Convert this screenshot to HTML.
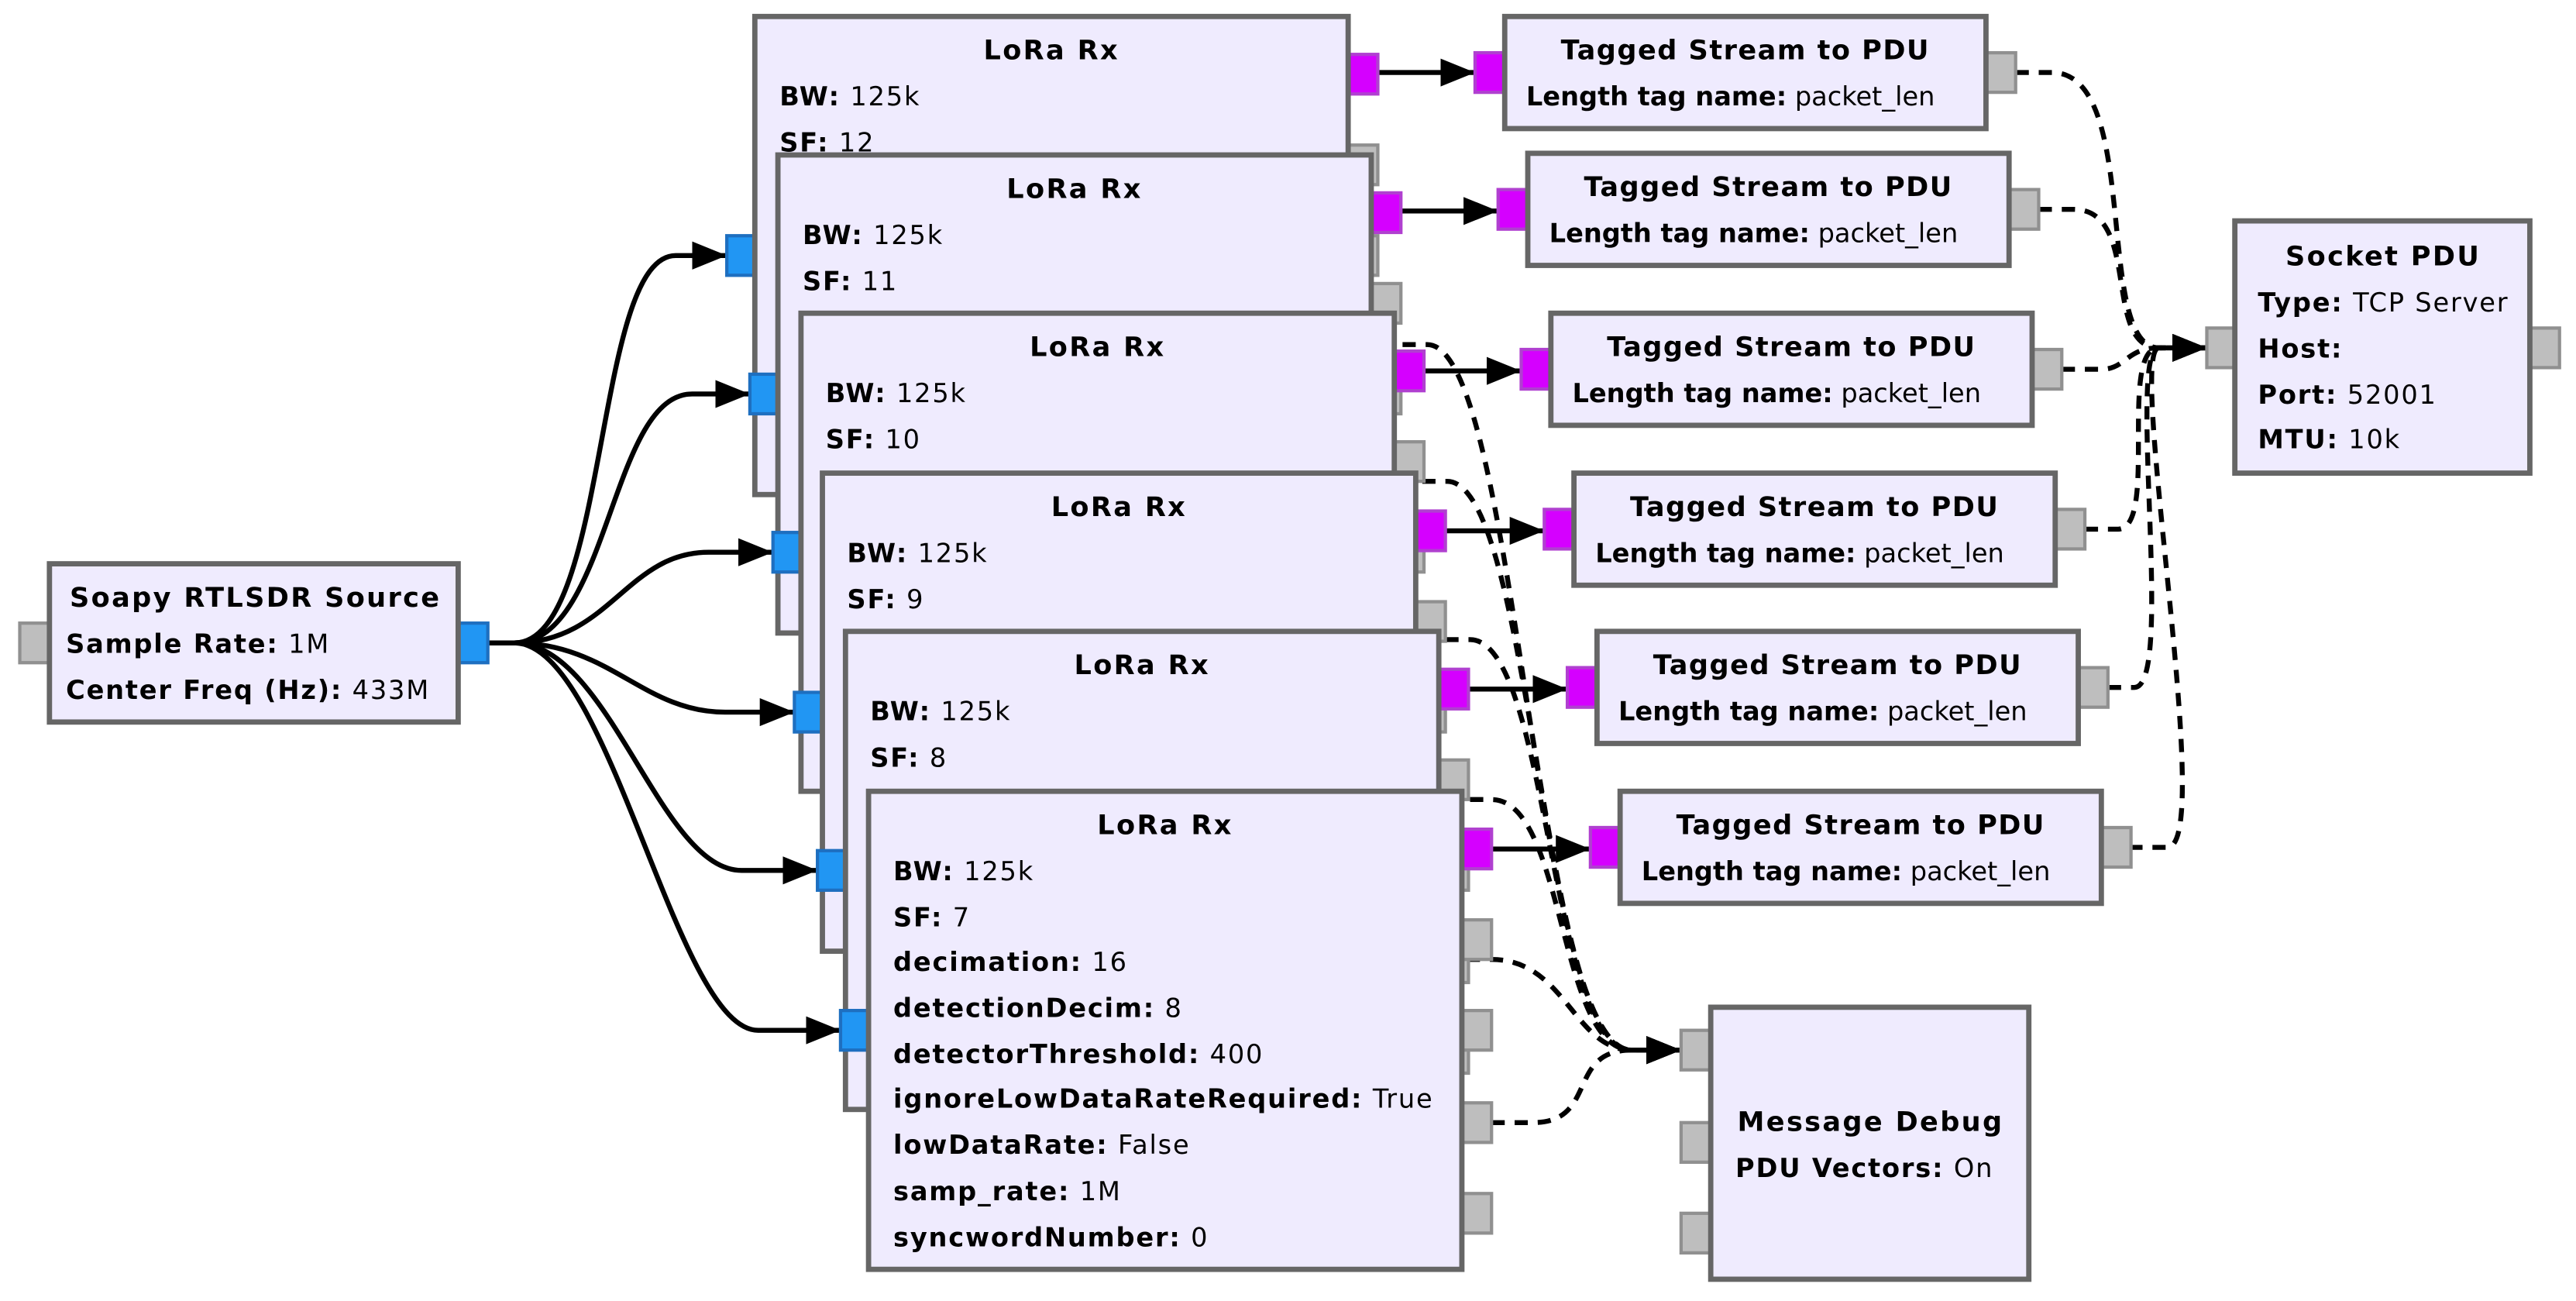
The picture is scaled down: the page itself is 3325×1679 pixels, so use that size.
<!DOCTYPE html>
<html><head><meta charset="utf-8"><style>
html,body{margin:0;padding:0;background:#fff;}
svg{display:block;}
text{font-family:"DejaVu Sans","Liberation Sans",sans-serif;font-size:15.8px;letter-spacing:0.85px;fill:#000;}
.t{font-weight:bold;font-size:16.5px;letter-spacing:1.1px;text-anchor:middle;}
.b{font-weight:bold;}
.blk{fill:#EFEBFE;stroke:#666;stroke-width:3.2;}
.pb{fill:#2196F3;stroke:#1E6FC0;stroke-width:2;}
.pm{fill:#D500FF;stroke:#B040D0;stroke-width:2;}
.pg{fill:#BEBEBE;stroke:#909090;stroke-width:2;}
.e{fill:none;stroke:#000;stroke-width:3;}
.d{fill:none;stroke:#000;stroke-width:3;stroke-dasharray:8 6;}
</style></head><body>
<svg width="3325" height="1679" viewBox="0 0 1563 789.2" preserveAspectRatio="none" xmlns="http://www.w3.org/2000/svg">
<defs><marker id="a" markerUnits="userSpaceOnUse" markerWidth="24" markerHeight="20" refX="21" refY="8.5" orient="auto"><path d="M0,0 L21,8.5 L0,17 z" fill="#000"/></marker></defs>

<path class="e" marker-end="url(#a)" d="M297 390 H312 C370 390 360 155 410 155 H441"/>
<path class="e" marker-end="url(#a)" d="M297 390 H312 C370 390 370 239 420 239 H455"/>
<path class="e" marker-end="url(#a)" d="M297 390 H312 C370 390 380 335 430 335 H469"/>
<path class="e" marker-end="url(#a)" d="M297 390 H312 C370 390 390 432 440 432 H482"/>
<path class="e" marker-end="url(#a)" d="M297 390 H312 C370 390 400 528 450 528 H496"/>
<path class="e" marker-end="url(#a)" d="M297 390 H312 C370 390 410 625 460 625 H510"/>

<path class="d" marker-end="url(#a)" d="M851 209 H866 C921 209 930 637 990 637 H1020"/>
<path class="d" marker-end="url(#a)" d="M863 292 H878 C930 292 935 637 990 637 H1020"/>
<path class="d" marker-end="url(#a)" d="M877 388 H892 C940 388 940 637 990 637 H1020"/>
<path class="d" marker-end="url(#a)" d="M892 485 H905 C950 485 945 637 990 637 H1020"/>
<path class="d" marker-end="url(#a)" d="M890 582 H905 C950 582 955 637 990 637 H1020"/>
<path class="d" marker-end="url(#a)" d="M905 681 H930 C970 681 950 637 990 637 H1020"/>

<path class="d" marker-end="url(#a)" d="M1223 44 H1245 C1300 44 1270 211 1310 211 H1339"/>
<path class="d" marker-end="url(#a)" d="M1237 127 H1258 C1300 127 1275 211 1310 211 H1339"/>
<path class="d" marker-end="url(#a)" d="M1251 224 H1275 C1290 224 1290 211 1310 211 H1339"/>
<path class="d" marker-end="url(#a)" d="M1265 321 H1285 C1310 321 1285 211 1310 211 H1339"/>
<path class="d" marker-end="url(#a)" d="M1279 417 H1295 C1320 417 1290 211 1310 211 H1339"/>
<path class="d" marker-end="url(#a)" d="M1292 514 H1315 C1345 514 1290 211 1310 211 H1339"/>

<path class="e" marker-end="url(#a)" d="M836 44 H895"/>
<path class="e" marker-end="url(#a)" d="M850 128 H909"/>
<path class="e" marker-end="url(#a)" d="M864 225 H923"/>
<path class="e" marker-end="url(#a)" d="M877 322 H937"/>
<path class="e" marker-end="url(#a)" d="M891 418 H951"/>
<path class="e" marker-end="url(#a)" d="M905 515 H965"/>

<rect class="pg" x="12" y="378" width="18" height="24"/>
<rect class="pb" x="278" y="378" width="18" height="24"/>
<rect class="blk" x="30" y="342" width="248" height="96"/>
<text class="t" x="155" y="368">Soapy RTLSDR Source</text>
<text x="40" y="396"><tspan class="b">Sample Rate:</tspan> 1M</text>
<text x="40" y="424"><tspan class="b">Center Freq (Hz):</tspan> 433M</text>

<g transform="translate(458,10)">
<rect class="pb" x="-17" y="133" width="17" height="24"/>
<rect class="pm" x="360" y="23" width="18" height="24"/>
<rect class="pg" x="360" y="78" width="18" height="24"/>
<rect class="pg" x="360" y="133" width="18" height="24"/>
<rect class="pg" x="360" y="189" width="18" height="24"/>
<rect class="pg" x="360" y="244" width="18" height="24"/>
<rect class="blk" x="0" y="0" width="360" height="290"/>
<text class="t" x="180" y="26">LoRa Rx</text>
<text x="15" y="54"><tspan class="b">BW:</tspan> 125k</text>
<text x="15" y="82"><tspan class="b">SF:</tspan> 12</text>
</g>
<g transform="translate(472,94)">
<rect class="pb" x="-17" y="133" width="17" height="24"/>
<rect class="pm" x="360" y="23" width="18" height="24"/>
<rect class="pg" x="360" y="78" width="18" height="24"/>
<rect class="pg" x="360" y="133" width="18" height="24"/>
<rect class="pg" x="360" y="189" width="18" height="24"/>
<rect class="pg" x="360" y="244" width="18" height="24"/>
<rect class="blk" x="0" y="0" width="360" height="290"/>
<text class="t" x="180" y="26">LoRa Rx</text>
<text x="15" y="54"><tspan class="b">BW:</tspan> 125k</text>
<text x="15" y="82"><tspan class="b">SF:</tspan> 11</text>
</g>
<g transform="translate(486,190)">
<rect class="pb" x="-17" y="133" width="17" height="24"/>
<rect class="pm" x="360" y="23" width="18" height="24"/>
<rect class="pg" x="360" y="78" width="18" height="24"/>
<rect class="pg" x="360" y="133" width="18" height="24"/>
<rect class="pg" x="360" y="189" width="18" height="24"/>
<rect class="pg" x="360" y="244" width="18" height="24"/>
<rect class="blk" x="0" y="0" width="360" height="290"/>
<text class="t" x="180" y="26">LoRa Rx</text>
<text x="15" y="54"><tspan class="b">BW:</tspan> 125k</text>
<text x="15" y="82"><tspan class="b">SF:</tspan> 10</text>
</g>
<g transform="translate(499,287)">
<rect class="pb" x="-17" y="133" width="17" height="24"/>
<rect class="pm" x="360" y="23" width="18" height="24"/>
<rect class="pg" x="360" y="78" width="18" height="24"/>
<rect class="pg" x="360" y="133" width="18" height="24"/>
<rect class="pg" x="360" y="189" width="18" height="24"/>
<rect class="pg" x="360" y="244" width="18" height="24"/>
<rect class="blk" x="0" y="0" width="360" height="290"/>
<text class="t" x="180" y="26">LoRa Rx</text>
<text x="15" y="54"><tspan class="b">BW:</tspan> 125k</text>
<text x="15" y="82"><tspan class="b">SF:</tspan> 9</text>
</g>
<g transform="translate(513,383)">
<rect class="pb" x="-17" y="133" width="17" height="24"/>
<rect class="pm" x="360" y="23" width="18" height="24"/>
<rect class="pg" x="360" y="78" width="18" height="24"/>
<rect class="pg" x="360" y="133" width="18" height="24"/>
<rect class="pg" x="360" y="189" width="18" height="24"/>
<rect class="pg" x="360" y="244" width="18" height="24"/>
<rect class="blk" x="0" y="0" width="360" height="290"/>
<text class="t" x="180" y="26">LoRa Rx</text>
<text x="15" y="54"><tspan class="b">BW:</tspan> 125k</text>
<text x="15" y="82"><tspan class="b">SF:</tspan> 8</text>
</g>
<g transform="translate(527,480)">
<rect class="pb" x="-17" y="133" width="17" height="24"/>
<rect class="pm" x="360" y="23" width="18" height="24"/>
<rect class="pg" x="360" y="78" width="18" height="24"/>
<rect class="pg" x="360" y="133" width="18" height="24"/>
<rect class="pg" x="360" y="189" width="18" height="24"/>
<rect class="pg" x="360" y="244" width="18" height="24"/>
<rect class="blk" x="0" y="0" width="360" height="290"/>
<text class="t" x="180" y="26">LoRa Rx</text>
<text x="15" y="54"><tspan class="b">BW:</tspan> 125k</text>
<text x="15" y="82"><tspan class="b">SF:</tspan> 7</text>
<text x="15" y="109"><tspan class="b">decimation:</tspan> 16</text>
<text x="15" y="137"><tspan class="b">detectionDecim:</tspan> 8</text>
<text x="15" y="165"><tspan class="b">detectorThreshold:</tspan> 400</text>
<text x="15" y="192"><tspan class="b">ignoreLowDataRateRequired:</tspan> True</text>
<text x="15" y="220"><tspan class="b">lowDataRate:</tspan> False</text>
<text x="15" y="248"><tspan class="b">samp_rate:</tspan> 1M</text>
<text x="15" y="276"><tspan class="b">syncwordNumber:</tspan> 0</text>
</g>

<g transform="translate(913,10)">
<rect class="pm" x="-18" y="22" width="18" height="24"/><rect class="pg" x="292" y="22" width="18" height="24"/>
<rect class="blk" width="292" height="68"/>
<text class="t" x="146" y="26" style="letter-spacing:0.7px">Tagged Stream to PDU</text>
<text x="13" y="54" style="letter-spacing:0px"><tspan class="b">Length tag name:</tspan> packet_len</text>
</g>
<g transform="translate(927,93)">
<rect class="pm" x="-18" y="22" width="18" height="24"/><rect class="pg" x="292" y="22" width="18" height="24"/>
<rect class="blk" width="292" height="68"/>
<text class="t" x="146" y="26" style="letter-spacing:0.7px">Tagged Stream to PDU</text>
<text x="13" y="54" style="letter-spacing:0px"><tspan class="b">Length tag name:</tspan> packet_len</text>
</g>
<g transform="translate(941,190)">
<rect class="pm" x="-18" y="22" width="18" height="24"/><rect class="pg" x="292" y="22" width="18" height="24"/>
<rect class="blk" width="292" height="68"/>
<text class="t" x="146" y="26" style="letter-spacing:0.7px">Tagged Stream to PDU</text>
<text x="13" y="54" style="letter-spacing:0px"><tspan class="b">Length tag name:</tspan> packet_len</text>
</g>
<g transform="translate(955,287)">
<rect class="pm" x="-18" y="22" width="18" height="24"/><rect class="pg" x="292" y="22" width="18" height="24"/>
<rect class="blk" width="292" height="68"/>
<text class="t" x="146" y="26" style="letter-spacing:0.7px">Tagged Stream to PDU</text>
<text x="13" y="54" style="letter-spacing:0px"><tspan class="b">Length tag name:</tspan> packet_len</text>
</g>
<g transform="translate(969,383)">
<rect class="pm" x="-18" y="22" width="18" height="24"/><rect class="pg" x="292" y="22" width="18" height="24"/>
<rect class="blk" width="292" height="68"/>
<text class="t" x="146" y="26" style="letter-spacing:0.7px">Tagged Stream to PDU</text>
<text x="13" y="54" style="letter-spacing:0px"><tspan class="b">Length tag name:</tspan> packet_len</text>
</g>
<g transform="translate(983,480)">
<rect class="pm" x="-18" y="22" width="18" height="24"/><rect class="pg" x="292" y="22" width="18" height="24"/>
<rect class="blk" width="292" height="68"/>
<text class="t" x="146" y="26" style="letter-spacing:0.7px">Tagged Stream to PDU</text>
<text x="13" y="54" style="letter-spacing:0px"><tspan class="b">Length tag name:</tspan> packet_len</text>
</g>

<rect class="pg" x="1339" y="199" width="18" height="24"/>
<rect class="pg" x="1535" y="199" width="18" height="24"/>
<rect class="blk" x="1356" y="134" width="179" height="153"/>
<text class="t" x="1446" y="161">Socket PDU</text>
<text x="1370" y="189"><tspan class="b">Type:</tspan> TCP Server</text>
<text x="1370" y="217"><tspan class="b">Host:</tspan></text>
<text x="1370" y="245"><tspan class="b">Port:</tspan> 52001</text>
<text x="1370" y="272"><tspan class="b">MTU:</tspan> 10k</text>

<rect class="pg" x="1020" y="625" width="18" height="24"/>
<rect class="pg" x="1020" y="681" width="18" height="24"/>
<rect class="pg" x="1020" y="736" width="18" height="24"/>
<rect class="blk" x="1038" y="611" width="193" height="165"/>
<text class="t" x="1135" y="686">Message Debug</text>
<text x="1053" y="714"><tspan class="b">PDU Vectors:</tspan> On</text>
</svg>
</body></html>
